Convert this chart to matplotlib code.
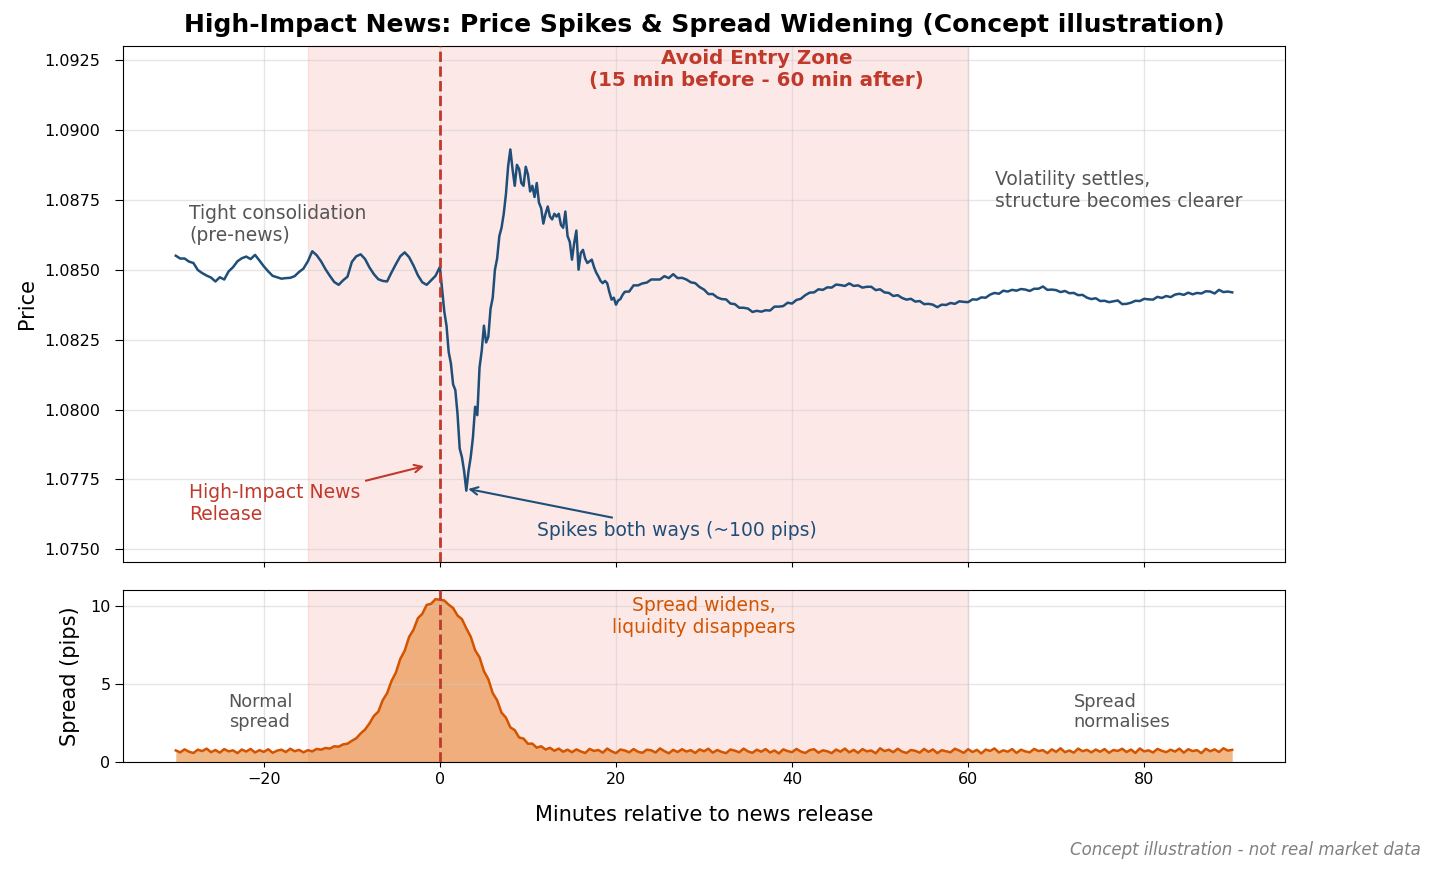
import numpy as np
import matplotlib
matplotlib.use("Agg")
import matplotlib.pyplot as plt

# price path (minutes relative to release)
minutes_pre = np.arange(-30, 0, 0.5)
price_pre = [
    1.08550, 1.08540, 1.08540, 1.08529, 1.08524, 1.08499, 1.08488, 1.08479, 1.08472, 1.08458,
    1.08473, 1.08465, 1.08494, 1.08509, 1.08530, 1.08541, 1.08547, 1.08538, 1.08553, 1.08533,
    1.08512, 1.08494, 1.08478, 1.08473, 1.08468, 1.08470, 1.08471, 1.08477, 1.08492, 1.08504,
    1.08530, 1.08566, 1.08552, 1.08530, 1.08502, 1.08478, 1.08456, 1.08446, 1.08462, 1.08475,
    1.08528, 1.08548, 1.08555, 1.08538, 1.08508, 1.08484, 1.08466, 1.08460, 1.08458, 1.08490,
    1.08520, 1.08548, 1.08562, 1.08545, 1.08515, 1.08480, 1.08455, 1.08446, 1.08462, 1.08478,
]

minutes_spike = np.arange(0, 21, 0.25)
price_spike = [
    1.08510, 1.08430, 1.08350, 1.08300, 1.08205, 1.08165, 1.08090, 1.08070, 1.07985, 1.07860,
    1.07830, 1.07780, 1.07710, 1.07780, 1.07830, 1.07900, 1.08010, 1.07980, 1.08150, 1.08210,
    1.08300, 1.08240, 1.08260, 1.08360, 1.08400, 1.08500, 1.08540, 1.08620, 1.08650, 1.08700,
    1.08770, 1.08870, 1.08930, 1.08860, 1.08800, 1.08875, 1.08860, 1.08810, 1.08800, 1.08868,
    1.08840, 1.08780, 1.08800, 1.08760, 1.08810, 1.08740, 1.08720, 1.08665, 1.08700, 1.08726,
    1.08690, 1.08680, 1.08700, 1.08690, 1.08700, 1.08660, 1.08650, 1.08708, 1.08620, 1.08600,
    1.08536, 1.08595, 1.08640, 1.08500, 1.08560, 1.08571, 1.08540, 1.08524, 1.08530, 1.08536,
    1.08510, 1.08490, 1.08476, 1.08460, 1.08452, 1.08460, 1.08452, 1.08420, 1.08393, 1.08400,
    1.08375, 1.08390, 1.08395, 1.08410,
]

minutes_post = np.arange(21, 90.01, 0.5)
price_post = [
    1.08421, 1.08422, 1.08444, 1.08444, 1.08451, 1.08454, 1.08465, 1.08465, 1.08465, 1.08477,
    1.08470, 1.08484, 1.08470, 1.08471, 1.08465, 1.08455, 1.08452, 1.08438, 1.08429, 1.08413,
    1.08413, 1.08401, 1.08395, 1.08394, 1.08379, 1.08377, 1.08364, 1.08364, 1.08361, 1.08349,
    1.08353, 1.08350, 1.08355, 1.08354, 1.08368, 1.08368, 1.08370, 1.08382, 1.08379, 1.08392,
    1.08396, 1.08409, 1.08418, 1.08419, 1.08430, 1.08428, 1.08437, 1.08436, 1.08447, 1.08445,
    1.08442, 1.08451, 1.08442, 1.08444, 1.08436, 1.08439, 1.08439, 1.08427, 1.08430, 1.08419,
    1.08417, 1.08406, 1.08409, 1.08399, 1.08393, 1.08396, 1.08386, 1.08388, 1.08377, 1.08378,
    1.08375, 1.08366, 1.08375, 1.08374, 1.08381, 1.08378, 1.08387, 1.08385, 1.08384, 1.08394,
    1.08393, 1.08401, 1.08400, 1.08411, 1.08417, 1.08414, 1.08425, 1.08422, 1.08428, 1.08425,
    1.08431, 1.08429, 1.08424, 1.08432, 1.08432, 1.08440, 1.08428, 1.08429, 1.08427, 1.08420,
    1.08424, 1.08416, 1.08417, 1.08409, 1.08410, 1.08400, 1.08395, 1.08398, 1.08388, 1.08389,
    1.08384, 1.08387, 1.08390, 1.08377, 1.08378, 1.08382, 1.08389, 1.08388, 1.08396, 1.08394,
    1.08393, 1.08403, 1.08399, 1.08406, 1.08402, 1.08411, 1.08414, 1.08410, 1.08418, 1.08412,
    1.08417, 1.08415, 1.08423, 1.08422, 1.08415, 1.08428, 1.08420, 1.08422, 1.08419,
]

# spread in pips, every half minute from -30 to 90
minutes_spread = np.arange(-30, 90.01, 0.5)
spread_pips = [
    0.74, 0.62, 0.81, 0.66, 0.58, 0.79, 0.70, 0.86, 0.63, 0.77, 0.60, 0.83, 0.68, 0.75, 0.57,
    0.80, 0.67, 0.84, 0.61, 0.76, 0.65, 0.82, 0.59, 0.73, 0.79, 0.64, 0.85, 0.69, 0.78, 0.62,
    0.76, 0.68, 0.84, 0.79, 0.90, 0.86, 1.01, 0.98, 1.13, 1.17, 1.36, 1.52, 1.83, 2.08, 2.47,
    2.95, 3.22, 3.95, 4.40, 5.18, 5.72, 6.60, 7.12, 8.00, 8.46, 9.20, 9.48, 10.05, 10.12, 10.42,
    10.38, 10.33, 10.06, 9.85, 9.37, 9.14, 8.55, 8.02, 7.15, 6.70, 5.81, 5.30, 4.41, 3.95, 3.16,
    2.84, 2.22, 2.04, 1.57, 1.50, 1.17, 1.18, 0.92, 1.01, 0.80, 0.91, 0.72, 0.86, 0.66, 0.79,
    0.63, 0.81, 0.68, 0.58, 0.84, 0.71, 0.77, 0.60, 0.86, 0.69, 0.57, 0.80, 0.74, 0.62, 0.83,
    0.66, 0.59, 0.79, 0.75, 0.61, 0.87, 0.70, 0.56, 0.78, 0.64, 0.82, 0.67, 0.76, 0.58, 0.81,
    0.69, 0.85, 0.60, 0.77, 0.65, 0.57, 0.80, 0.73, 0.62, 0.86, 0.68, 0.59, 0.79, 0.66, 0.83,
    0.61, 0.74, 0.55, 0.81, 0.70, 0.63, 0.84, 0.67, 0.58, 0.76, 0.82, 0.60, 0.75, 0.69, 0.57,
    0.80, 0.66, 0.86, 0.62, 0.78, 0.59, 0.83, 0.68, 0.74, 0.56, 0.88, 0.70, 0.79, 0.63, 0.85,
    0.67, 0.58, 0.77, 0.72, 0.60, 0.84, 0.65, 0.81, 0.57, 0.76, 0.69, 0.62, 0.85, 0.73, 0.59,
    0.82, 0.64, 0.78, 0.55, 0.80, 0.71, 0.87, 0.61, 0.75, 0.66, 0.83, 0.58, 0.79, 0.68, 0.62,
    0.84, 0.70, 0.76, 0.57, 0.81, 0.65, 0.88, 0.63, 0.74, 0.60, 0.86, 0.69, 0.78, 0.62, 0.80,
    0.66, 0.83, 0.59, 0.77, 0.71, 0.85, 0.64, 0.80, 0.58, 0.87, 0.68, 0.75, 0.61, 0.84, 0.72,
    0.63, 0.79, 0.67, 0.86, 0.60, 0.82, 0.70, 0.76, 0.57, 0.85, 0.69, 0.81, 0.64, 0.88, 0.73,
    0.78,
]

minutes = np.concatenate([minutes_pre, minutes_spike, minutes_post])
price = np.array(price_pre + price_spike + price_post)

zone_start, zone_end = -15, 60

C_PRICE = "#1f4e79"
C_RED = "#c0392b"
C_ZONE = "#e74c3c"
C_SPREAD = "#d35400"
C_FILL = "#e67e22"
C_NOTE = "#555555"

fig = plt.figure(figsize=(14.35, 8.74), dpi=100)
ax1 = fig.add_axes([0.0857, 0.357, 0.8098, 0.5904])
ax2 = fig.add_axes([0.0857, 0.1281, 0.8098, 0.1968], sharex=ax1)

# --- price panel
ax1.axvspan(zone_start, zone_end, color=C_ZONE, alpha=0.12, zorder=0)
ax1.axvline(0, color=C_RED, linestyle="--", linewidth=2, zorder=3)
ax1.plot(minutes, price, color=C_PRICE, linewidth=1.8, zorder=2)
ax1.set_ylim(1.07455, 1.0930)
ax1.set_ylabel("Price", fontsize=15, labelpad=5)
ax1.grid(True, color="#cccccc", alpha=0.5, linewidth=1)
ax1.tick_params(labelbottom=False, labelsize=11.5)
ax1.tick_params(axis="y", length=5.5, pad=11)
ax1.set_title("High-Impact News: Price Spikes & Spread Widening (Concept illustration)",
              fontsize=18, fontweight="bold", pad=10)

ax1.text(36, 1.0929, "Avoid Entry Zone\n(15 min before - 60 min after)", ha="center", va="top",
         fontsize=14.3, fontweight="bold", color=C_RED)
ax1.text(-28.5, 1.0859, "Tight consolidation\n(pre-news)", ha="left", va="bottom",
         fontsize=13.5, color=C_NOTE)
ax1.text(63, 1.0871, "Volatility settles,\nstructure becomes clearer", ha="left", va="bottom",
         fontsize=13.5, color=C_NOTE)
ax1.annotate("High-Impact News\nRelease", xy=(-1.5, 1.0780), xytext=(-28.5, 1.07664),
             ha="left", va="center", fontsize=13.5, color=C_RED,
             arrowprops=dict(arrowstyle="->", color=C_RED, lw=1.5))
ax1.annotate("Spikes both ways (~100 pips)", xy=(2.9, 1.07718), xytext=(11, 1.07568),
             ha="left", va="center", fontsize=13.5, color=C_PRICE,
             arrowprops=dict(arrowstyle="->", color=C_PRICE, lw=1.5))

# --- spread panel
ax2.axvspan(zone_start, zone_end, color=C_ZONE, alpha=0.12, zorder=0)
ax2.fill_between(minutes_spread, 0, spread_pips, color=C_FILL, alpha=0.55, linewidth=0, zorder=1)
ax2.plot(minutes_spread, spread_pips, color=C_SPREAD, linewidth=1.8, zorder=2)
ax2.axvline(0, color=C_RED, linestyle="--", linewidth=2, zorder=3)
ax2.set_ylim(0, 11)
ax2.set_yticks([0, 5, 10])
ax2.set_ylabel("Spread (pips)", fontsize=15, labelpad=7)
ax2.set_xlabel("Minutes relative to news release", fontsize=15, labelpad=13)
ax2.grid(True, color="#cccccc", alpha=0.5, linewidth=1)
ax2.tick_params(labelsize=11.5)
ax2.tick_params(axis="y", length=5.5)

ax2.text(30, 9.3, "Spread widens,\nliquidity disappears", ha="center", va="center",
         fontsize=13.5, color=C_SPREAD)
ax2.text(-24, 3.2, "Normal\nspread", ha="left", va="center", fontsize=12.8, color=C_NOTE)
ax2.text(72, 3.2, "Spread\nnormalises", ha="left", va="center", fontsize=12.8, color=C_NOTE)

fig.text(0.99, 0.027, "Concept illustration - not real market data", ha="right", va="center",
         fontsize=12, style="italic", color="gray")

fig.savefig("out.png", dpi=100)
